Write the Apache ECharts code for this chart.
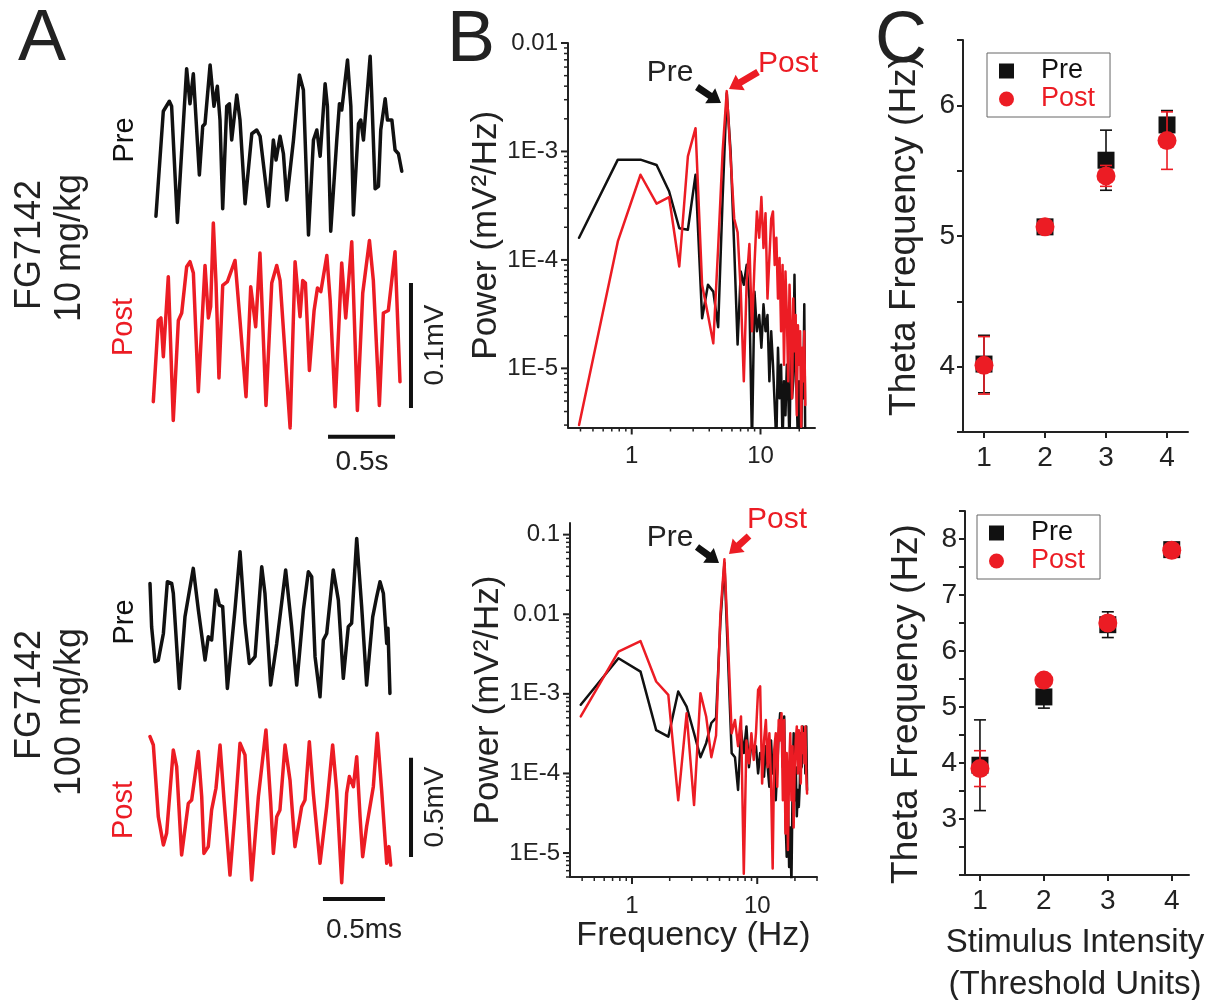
<!DOCTYPE html>
<html><head><meta charset="utf-8">
<script src="https://cdn.jsdelivr.net/npm/echarts@6/dist/echarts.min.js"></script>
<style>html,body{margin:0;padding:0;background:#fff}#c{width:1221px;height:1000px}</style>
</head><body><div id="c"></div>
<script>
// ---------- Panel A: example LFP traces (time, amplitude) ----------
// FG7142 10 mg/kg (time in ms, amplitude in µV)
const trace10Pre_ms = [7,62,107,124,167,236,261,286,331,356,373,411,440,465,485,505,535,555,572,610,634,672,722,759,784,846,883,903,933,958,983,1033,1077,1107,1145,1182,1207,1232,1269,1286,1311,1356,1376,1393,1436,1461,1480,1518,1535,1555,1605,1617,1642,1667,1684,1717,1734,1767,1791,1816,1841];
const trace10Pre_uV = [-61,23,31,27,-66,57,29,53,-28,11,13,60,27,43,16,-55,27,29,0,36,16,-51,5,8,3,-53,0,-16,3,-11,-48,0,52,40,-76,0,8,-13,45,27,-73,0,29,24,64,27,-60,13,16,0,67,35,-39,-37,8,33,16,16,-8,-11,-25];
const trace10Post_ms = [0,37,57,75,112,149,187,212,249,274,299,336,386,411,428,448,468,490,518,553,610,647,692,727,764,796,841,884,921,946,1021,1058,1095,1115,1135,1165,1200,1225,1250,1295,1320,1357,1406,1436,1481,1523,1563,1613,1642,1687,1717,1754,1804,1841];
const trace10Post_uV = [-52,13,15,-16,48,-67,13,19,56,60,51,-44,57,15,24,91,43,-33,41,44,61,13,-48,40,8,67,-55,43,57,45,-73,60,16,45,43,-27,21,39,36,65,29,-56,59,15,76,-59,35,77,45,-55,19,21,68,-36];
// FG7142 100 mg/kg (time in "ms" as labelled, amplitude in µV)
const trace100Pre_ms = [0,0.013,0.040,0.067,0.108,0.140,0.175,0.188,0.237,0.282,0.349,0.390,0.444,0.470,0.497,0.532,0.559,0.586,0.624,0.685,0.726,0.766,0.801,0.847,0.901,0.927,0.973,1.022,1.094,1.142,1.183,1.237,1.277,1.304,1.331,1.371,1.398,1.425,1.478,1.519,1.559,1.599,1.626,1.667,1.707,1.747,1.796,1.828,1.855,1.882,1.909,1.919,1.935];
const trace100Pre_uV = [218,0,-176,-168,-34,227,218,168,-311,50,294,84,-168,-50,-67,185,109,101,-311,84,378,17,-185,-151,302,168,-294,-84,286,0,-294,84,277,252,-151,-353,-67,-34,286,134,-260,0,17,445,101,-294,50,151,227,168,-84,-8,-336];
const trace100Post_ms = [0,0.027,0.067,0.108,0.134,0.188,0.215,0.255,0.309,0.336,0.390,0.417,0.435,0.470,0.497,0.532,0.565,0.597,0.645,0.685,0.726,0.766,0.785,0.820,0.874,0.935,0.973,0.995,1.022,1.048,1.089,1.129,1.169,1.223,1.250,1.285,1.317,1.371,1.425,1.473,1.505,1.546,1.586,1.608,1.640,1.667,1.694,1.715,1.747,1.801,1.833,1.868,1.909,1.927,1.941];
const trace100Post_uV = [319,277,-84,-227,-168,252,168,-277,-17,0,244,17,-269,-235,-50,59,277,0,-378,-67,286,227,0,-403,17,353,-8,-269,-84,-50,277,101,-235,-34,0,294,34,-319,-34,277,50,-417,34,118,67,218,-84,-286,-134,67,336,50,-319,-235,-328];
// scale bars
const scaleBar10 = {time: 500, amp: 100};    // 0.5 s, 0.1 mV
const scaleBar100 = {time: 0.5, amp: 500};   // 0.5 ms, 0.5 mV

// ---------- Panel B: power spectra ----------
const freqHz = [0.39,0.78,1.17,1.56,1.95,2.34,2.73,3.13,3.52,3.91,4.30,4.69,5.08,5.47,5.86,6.25,6.64,7.03,7.42,7.81,8.20,8.59,8.98,9.38,9.77,10.16,10.55,10.94,11.33,11.72,12.11,12.50,12.89,13.28,13.67,14.06,14.45,14.84,15.23,15.63,16.02,16.41,16.80,17.19,17.58,17.97,18.36,18.75,19.14,19.53,19.92,20.31,20.70,21.09,21.48,21.88,22.27,22.66,23.05,23.44,23.83,24.22,24.61,25.00];
const power10Pre = [1.6e-4,8.4e-4,8.4e-4,7.5e-4,4.3e-4,1.96e-4,1.9e-4,6.1e-4,2.9e-5,5.9e-5,5.1e-5,2.4e-5,3.7e-4,3.45e-3,1.0e-3,1.29e-4,1.66e-5,7.8e-5,5.9e-5,9.0e-5,4.4e-5,2e-6,5.1e-5,2.2e-5,3.1e-5,1.55e-5,3.9e-5,2.2e-5,3.1e-5,7.6e-6,2.2e-5,1.08e-5,4.6e-6,2e-6,1.55e-5,5.3e-6,1.08e-5,2e-6,7.6e-6,3.7e-6,1.08e-5,6.1e-6,2e-6,1.44e-5,5.3e-6,7.6e-6,7.3e-5,1.08e-5,5.3e-6,2e-6,7.6e-6,3.7e-6,2e-6,1.08e-5,5.3e-6,3.9e-5,2e-6];
const power10Post = [3.0e-6,1.48e-4,6.1e-4,3.3e-4,3.8e-4,8.7e-5,9.0e-4,1.64e-3,5.9e-5,3.1e-5,1.7e-5,1.3e-4,1.0e-3,3.6e-3,8.7e-4,2.4e-4,1.8e-4,5.1e-5,7.6e-6,6.3e-5,1.4e-4,2.2e-5,9.0e-5,2.8e-4,1.6e-4,3.8e-4,1.29e-4,2.7e-4,4.4e-5,1.04e-4,2.4e-4,2.8e-4,9.0e-5,1.6e-4,4.4e-5,1.04e-4,2.2e-5,9.0e-5,1.08e-5,7.8e-5,3.1e-5,7.6e-6,5.9e-5,2.2e-5,5.3e-6,4.4e-5,1.44e-5,3.1e-5,3.7e-6,2.5e-5,1.08e-5,2.2e-5,2.9e-6,1.55e-5,7.6e-6,2.2e-5,4.6e-6];
const power100Pre = [7.3e-4,2.8e-3,1.9e-3,3.5e-4,2.9e-4,1.07e-3,6.9e-4,3.2e-4,1.6e-4,2.4e-4,4.3e-4,5.0e-4,8.0e-3,0.044,2.5e-3,1.8e-4,1.6e-4,6.2e-5,3.5e-4,1.8e-4,3.9e-4,1.2e-4,2.4e-4,1.8e-4,2.2e-4,1.0e-4,1.8e-4,1.48e-4,9.1e-5,2.2e-4,1.2e-4,6.8e-5,2.6e-4,1.0e-4,1.48e-4,4.6e-5,1.2e-4,3.2e-4,5.7e-4,4.7e-4,1.2e-4,5.2e-4,2.9e-5,9.0e-6,4.6e-5,6.7e-6,2.1e-5,4.0e-6,6.2e-5,3.2e-4,4.6e-5,1.2e-4,2.9e-5,6.2e-5,3.8e-5,7.5e-5,3.2e-4,1.2e-4,3.9e-4,1.8e-4,3.2e-4,1.0e-4,3.9e-4,6.2e-5];
const power100Post = [5.2e-4,3.4e-3,4.6e-3,1.43e-3,9.7e-4,4.6e-5,5.7e-4,4.0e-5,1.02e-3,5.2e-4,1.6e-4,3.0e-4,1.0e-2,0.049,4.0e-3,3.2e-4,4.7e-4,2.2e-4,5.2e-4,5.5e-6,2.6e-4,1.34e-4,3.2e-4,1.48e-4,3.2e-4,1.12e-3,1.24e-3,7.5e-5,2.6e-4,4.7e-4,1.2e-4,3.2e-4,7.5e-5,6.4e-6,2.0e-4,3.2e-4,6.8e-5,4.7e-4,2.6e-4,5.7e-4,4.6e-5,4.7e-4,1.76e-5,1.8e-4,1.09e-5,1.2e-4,3.2e-4,4.6e-5,2.2e-4,2.1e-5,1.2e-4,2.6e-4,3.9e-4,1.0e-4,3.5e-4,2.0e-4,7.5e-5,3.9e-4,1.8e-4,3.2e-4,1.34e-4,3.9e-4,1.0e-4,5.6e-5];

// ---------- Panel C: theta frequency vs stimulus intensity ----------
const stimulus = [1, 2, 3, 4];
const theta10Pre = [4.02, 5.07, 5.58, 5.85];
const theta10PreErr = [0.22, 0.03, 0.23, 0.11];
const theta10Post = [4.01, 5.07, 5.46, 5.73];
const theta10PostErr = [0.22, 0.03, 0.08, 0.22];
const theta100Pre = [3.96, 5.18, 6.47, 7.81];
const theta100PreErr = [0.81, 0.20, 0.23, 0.05];
const theta100Post = [3.90, 5.48, 6.50, 7.80];
const theta100PostErr = [0.32, 0.05, 0.12, 0.04];
const thetaLabels10 = [4, 5, 6];
const thetaLabels100 = [3, 4, 5, 6, 7, 8];

// ---------- rendering ----------
const FONT = "'Liberation Sans', Arial, Helvetica, sans-serif";
const BLACK = '#111', RED = '#ec1c24', TXT = '#222';
const zip = (a, b) => a.map((v, i) => [v, b[i]]);

function logLabel(v) {
  const l = Math.log10(v), e = Math.round(l);
  if (Math.abs(l - e) > 1e-6) return '';
  if (e >= -2) return String(+Math.pow(10, e).toFixed(Math.max(0, -e)));
  return '1E' + e;
}

function logTicks(xMin, xMax, yMin, yMax) {
  return function (params, api) {
    const ch = [];
    for (let n = -7; n <= 2; n++) for (let m = 1; m <= 9; m++) {
      const v = m * Math.pow(10, n);
      const L = m === 1 ? 7 : 4, w = m === 1 ? 2 : 1.5;
      if (v >= xMin * 0.9999 && v <= xMax * 1.0001) {
        const p = api.coord([v, yMin]);
        ch.push({type: 'line', shape: {x1: p[0], y1: p[1], x2: p[0], y2: p[1] + L}, style: {stroke: TXT, lineWidth: w}});
      }
      if (v >= yMin * 0.9999 && v <= yMax * 1.0001) {
        const p = api.coord([xMin, v]);
        ch.push({type: 'line', shape: {x1: p[0] - L, y1: p[1], x2: p[0], y2: p[1]}, style: {stroke: TXT, lineWidth: w}});
      }
    }
    return {type: 'group', children: ch};
  };
}

function errRender(color) {
  return function (params, api) {
    const x = api.value(0), y = api.value(1), e = api.value(2);
    const t = api.coord([x, y + e]), b = api.coord([x, y - e]);
    const cap = 6, st = {stroke: color, lineWidth: 1.6};
    return {type: 'group', children: [
      {type: 'line', shape: {x1: t[0], y1: t[1], x2: b[0], y2: b[1]}, style: st},
      {type: 'line', shape: {x1: t[0] - cap, y1: t[1], x2: t[0] + cap, y2: t[1]}, style: st},
      {type: 'line', shape: {x1: b[0] - cap, y1: b[1], x2: b[0] + cap, y2: b[1]}, style: st}
    ]};
  };
}

const hiddenX = (gi, max) => ({gridIndex: gi, type: 'value', min: 0, max: max, show: false});
const hiddenY = (gi, min, max) => ({gridIndex: gi, type: 'value', min: min, max: max, show: false});
const axLine = {lineStyle: {color: TXT, width: 2}};
const lbl = (size, margin, extra) => Object.assign({color: TXT, fontSize: size, fontFamily: FONT, margin: margin}, extra || {});

const B10 = {xMin: 0.32, xMax: 26.5, yMin: 2.85e-6, yMax: 0.01};
const B100 = {xMin: 0.32, xMax: 30, yMin: 5e-6, yMax: 0.14};

const lineS = (xi, data, color, w) => ({type: 'line', xAxisIndex: xi, yAxisIndex: xi, data: data, symbol: 'none', showSymbol: false,
  lineStyle: {color: color, width: w, join: 'round', cap: 'round'}, itemStyle: {color: color}, clip: false, animation: false, silent: true});
const barS = (xi, data) => Object.assign(lineS(xi, data, BLACK, 4), {lineStyle: {color: BLACK, width: 4, cap: 'butt'}});

const series = [
  Object.assign(lineS(0, zip(trace10Pre_ms, trace10Pre_uV), BLACK, 3.5), {name: 'Pre trace'}),
  Object.assign(lineS(1, zip(trace10Post_ms, trace10Post_uV), RED, 3.5), {name: 'Post trace'}),
  Object.assign(lineS(2, zip(trace100Pre_ms, trace100Pre_uV), BLACK, 3.5), {name: 'Pre trace'}),
  Object.assign(lineS(3, zip(trace100Post_ms, trace100Post_uV), RED, 3.5), {name: 'Post trace'}),
  // scale bars (anchored next to the Post traces)
  barS(1, [[1923, -57], [1923, -57 + scaleBar10.amp]]),
  barS(1, [[1304, -80], [1304 + scaleBar10.time, -80]]),
  barS(3, [[2.105, -287], [2.105, -287 + scaleBar100.amp]]),
  barS(3, [[1.395, -499], [1.395 + scaleBar100.time, -499]]),
  // spectra
  Object.assign(lineS(4, zip(freqHz.slice(0, power10Pre.length), power10Pre), BLACK, 2.5), {clip: true}),
  Object.assign(lineS(4, zip(freqHz.slice(0, power10Post.length), power10Post), RED, 2.5), {clip: true}),
  Object.assign(lineS(5, zip(freqHz, power100Pre), BLACK, 2.5), {clip: true}),
  Object.assign(lineS(5, zip(freqHz, power100Post), RED, 2.5), {clip: true}),
  {type: 'custom', xAxisIndex: 4, yAxisIndex: 4, data: [[B10.xMin, B10.yMin]], clip: false, silent: true,
   renderItem: logTicks(B10.xMin, B10.xMax, B10.yMin, B10.yMax)},
  {type: 'custom', xAxisIndex: 5, yAxisIndex: 5, data: [[B100.xMin, B100.yMin]], clip: false, silent: true,
   renderItem: logTicks(B100.xMin, B100.xMax, B100.yMin, B100.yMax)},
];

function cSeries(ax, pre, preErr, post, postErr) {
  return [
    {type: 'custom', xAxisIndex: ax, yAxisIndex: ax, renderItem: errRender(BLACK), encode: {x: 0, y: 1},
     data: stimulus.map((s, i) => [s, pre[i], preErr[i]]), silent: true, z: 2},
    {type: 'scatter', name: 'Pre', xAxisIndex: ax, yAxisIndex: ax, symbol: 'rect', symbolSize: 17,
     itemStyle: {color: BLACK, opacity: 1}, data: zip(stimulus, pre), z: 3, silent: true},
    {type: 'custom', xAxisIndex: ax, yAxisIndex: ax, renderItem: errRender(RED), encode: {x: 0, y: 1},
     data: stimulus.map((s, i) => [s, post[i], postErr[i]]), silent: true, z: 4},
    {type: 'scatter', name: 'Post', xAxisIndex: ax, yAxisIndex: ax, symbol: 'circle', symbolSize: 19,
     itemStyle: {color: RED, opacity: 1}, data: zip(stimulus, post), z: 5, silent: true}
  ];
}
series.push(...cSeries(6, theta10Pre, theta10PreErr, theta10Post, theta10PostErr));
series.push(...cSeries(7, theta100Pre, theta100PreErr, theta100Post, theta100PostErr));

function legendAt(left, top) {
  return {orient: 'vertical', left: left, top: top, borderColor: '#666', borderWidth: 1,
    padding: [4, 15, 4, 12], itemGap: 0, itemWidth: 15, itemHeight: 15, selectedMode: false,
    textStyle: {fontSize: 27, lineHeight: 28, fontFamily: FONT, padding: [0, 0, 0, 22]},
    data: [
      {name: 'Pre', icon: 'rect', itemStyle: {color: BLACK}, textStyle: {color: BLACK}},
      {name: 'Post', icon: 'circle', itemStyle: {color: RED}, textStyle: {color: RED}}
    ]};
}

// annotation text + arrows
function txt(t, x, y, size, color, rot) {
  return {type: 'text', x: x, y: y, rotation: rot ? Math.PI / 2 : 0, silent: true,
    style: {text: t, x: 0, y: 0, fill: color || TXT, font: size + 'px ' + FONT, textAlign: 'center', textVerticalAlign: 'middle'}};
}
function arrow(x1, y1, x2, y2, color) {
  const dx = x2 - x1, dy = y2 - y1, L = Math.hypot(dx, dy), ux = dx / L, uy = dy / L, nx = -uy, ny = ux;
  const w1 = 3.5, w2 = 9, h = 13, kx = x2 - ux * h, ky = y2 - uy * h;
  return {type: 'polygon', silent: true, shape: {points: [
    [x1 + nx * w1, y1 + ny * w1], [kx + nx * w1, ky + ny * w1], [kx + nx * w2, ky + ny * w2], [x2, y2],
    [kx - nx * w2, ky - ny * w2], [kx - nx * w1, ky - ny * w1], [x1 - nx * w1, y1 - ny * w1]]},
    style: {fill: color}};
}

const graphic = [
  txt('A', 42, 40, 72), txt('B', 471, 41, 72), txt('C', 901, 42, 72),
  txt('FG7142', 30, 245, 36, TXT, true), txt('10 mg/kg', 70, 248, 36, TXT, true),
  txt('Pre', 125, 140, 29, BLACK, true), txt('Post', 124, 327, 29, RED, true),
  txt('FG7142', 30, 695, 36, TXT, true), txt('100 mg/kg', 70, 712, 36, TXT, true),
  txt('Pre', 125, 622, 29, BLACK, true), txt('Post', 124, 810, 29, RED, true),
  txt('0.1mV', 435, 345, 28, TXT, true), txt('0.5s', 362, 462, 28),
  txt('0.5mV', 435, 807, 28, TXT, true), txt('0.5ms', 364, 930, 28),
  txt('Pre', 670, 73, 30, TXT), txt('Post', 788, 64, 30, RED),
  txt('Pre', 670, 538, 30, TXT), txt('Post', 777, 520, 30, RED),
  txt('Stimulus Intensity', 1075, 943, 33), txt('(Threshold Units)', 1075, 985, 33),
  arrow(697, 87, 721, 103, BLACK), arrow(758, 72, 729, 89, RED),
  arrow(697, 547, 719, 563, BLACK), arrow(749, 536, 729, 554, RED)
];

const option = {
  animation: false,
  backgroundColor: '#fff',
  textStyle: {fontFamily: FONT},
  grid: [
    {left: 155, top: 40, width: 248, height: 200},
    {left: 153.3, top: 211.7, width: 268, height: 225},
    {left: 150, top: 527.5, width: 248, height: 178.6},
    {left: 150, top: 720.6, width: 272.8, height: 168.7},
    {left: 568, top: 43, width: 247, height: 384.5},
    {left: 570, top: 523, width: 247, height: 354},
    {left: 963, top: 40, width: 225, height: 392},
    {left: 965, top: 511, width: 224, height: 364}
  ],
  xAxis: [
    hiddenX(0, 1850), hiddenX(1, 2000), hiddenX(2, 2), hiddenX(3, 2.2),
    {gridIndex: 4, type: 'log', min: B10.xMin, max: B10.xMax, axisLine: axLine, axisTick: {show: false}, splitLine: {show: false},
     axisLabel: lbl(24, 17, {formatter: logLabel})},
    {gridIndex: 5, type: 'log', min: B100.xMin, max: B100.xMax, axisLine: axLine, axisTick: {show: false}, splitLine: {show: false},
     axisLabel: lbl(24, 17, {formatter: logLabel}),
     name: 'Frequency (Hz)', nameLocation: 'middle', nameGap: 40, nameTextStyle: {fontSize: 34, color: TXT, fontFamily: FONT}},
    {gridIndex: 6, type: 'value', min: 0.656, max: 4.344, axisLine: axLine, splitLine: {show: false},
     axisTick: {customValues: stimulus, length: 6, lineStyle: {color: TXT, width: 2}},
     axisLabel: lbl(28, 12, {customValues: stimulus})},
    {gridIndex: 7, type: 'value', min: 0.766, max: 4.27, axisLine: axLine, splitLine: {show: false},
     axisTick: {customValues: stimulus, length: 6, lineStyle: {color: TXT, width: 2}},
     axisLabel: lbl(28, 12, {customValues: stimulus})}
  ],
  yAxis: [
    hiddenY(0, -80, 80), hiddenY(1, -80, 100), hiddenY(2, -400, 500), hiddenY(3, -450, 400),
    {gridIndex: 4, type: 'log', min: B10.yMin, max: B10.yMax, axisLine: axLine, axisTick: {show: false}, splitLine: {show: false},
     axisLabel: lbl(24, 10, {formatter: logLabel}),
     name: 'Power (mV²/Hz)', nameLocation: 'middle', nameGap: 61, nameTextStyle: {fontSize: 35, color: TXT, fontFamily: FONT}},
    {gridIndex: 5, type: 'log', min: B100.yMin, max: B100.yMax, axisLine: axLine, axisTick: {show: false}, splitLine: {show: false},
     axisLabel: lbl(24, 10, {formatter: logLabel}),
     name: 'Power (mV²/Hz)', nameLocation: 'middle', nameGap: 63, nameTextStyle: {fontSize: 35, color: TXT, fontFamily: FONT}},
    {gridIndex: 6, type: 'value', min: 3.5, max: 6.5, interval: 0.5, axisLine: axLine, splitLine: {show: false},
     axisTick: {length: 6, lineStyle: {color: TXT, width: 2}},
     axisLabel: lbl(28, 8, {formatter: v => thetaLabels10.indexOf(v) >= 0 ? String(v) : ''}),
     name: 'Theta Frequency (Hz)', nameLocation: 'middle', nameGap: 40, nameTextStyle: {fontSize: 37, color: TXT, fontFamily: FONT}},
    {gridIndex: 7, type: 'value', min: 2, max: 8.5, interval: 0.5, axisLine: axLine, splitLine: {show: false},
     axisTick: {length: 6, lineStyle: {color: TXT, width: 2}},
     axisLabel: lbl(28, 8, {formatter: v => thetaLabels100.indexOf(v) >= 0 ? String(v) : ''}),
     name: 'Theta Frequency (Hz)', nameLocation: 'middle', nameGap: 40,
     nameTextStyle: {fontSize: 37, color: TXT, fontFamily: FONT, padding: [0, 22, 0, 0]}}
  ],
  legend: [legendAt(987, 53), legendAt(977, 515)],
  graphic: graphic,
  series: series
};

const chart = echarts.init(document.getElementById('c'), null, {renderer: 'canvas'});
chart.setOption(option);
</script></body></html>
